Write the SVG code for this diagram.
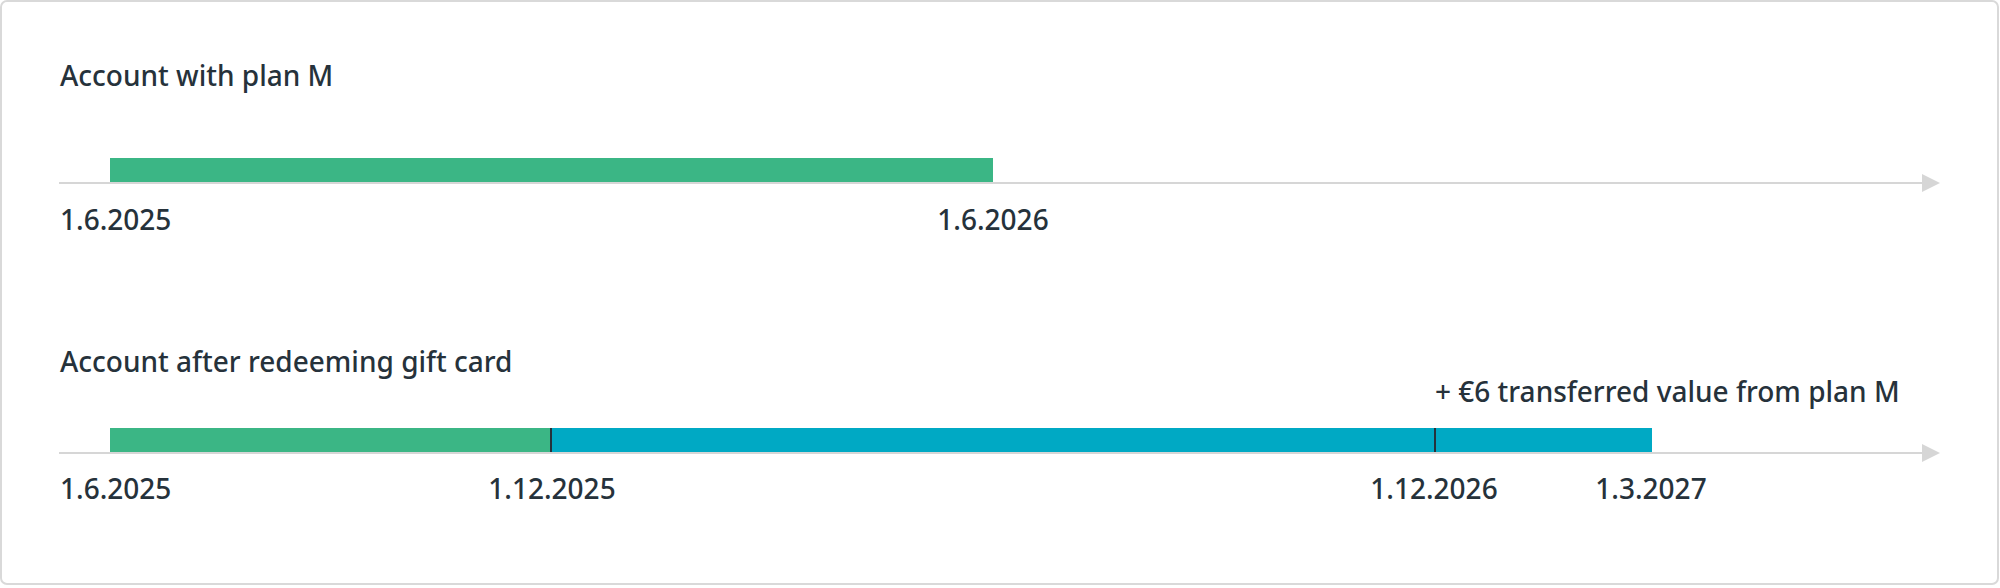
<svg xmlns="http://www.w3.org/2000/svg" width="2000" height="588" viewBox="0 0 2000 588">
  <defs>
    <style>
      .frame { fill: #ffffff; stroke: #d9d9d9; stroke-width: 2; }
      .axis { stroke: #d6d6d6; stroke-width: 2; fill: none; }
      .head { fill: #d6d6d6; }
      .green { fill: #3bb685; }
      .blue { fill: #00a9c4; }
      .tick { stroke: #26323b; stroke-width: 2; }
      .t { font-family: "Noto Sans", "Open Sans", sans-serif; font-size: 28px; font-weight: 500; fill: #26323b; }
      .mid { text-anchor: middle; }
    </style>
  </defs>
  <rect class="frame" x="1" y="1" width="1997" height="583" rx="6"/>

  <g id="connectors">
    <line class="axis" x1="59" y1="183" x2="1924" y2="183"/>
    <polygon class="head" points="1922,174 1940,183 1922,192"/>
    <line class="axis" x1="59" y1="453" x2="1924" y2="453"/>
    <polygon class="head" points="1922,444 1940,453 1922,462"/>
  </g>

  <g id="timeline-plan-m">
    <text class="t" x="60" y="86">Account with plan M</text>
    <rect class="green" x="110" y="158" width="883" height="24"/>
    <text class="t" x="60" y="230">1.6.2025</text>
    <text class="t mid" x="993" y="230">1.6.2026</text>
  </g>

  <g id="timeline-gift-card">
    <text class="t" x="60" y="372">Account after redeeming gift card</text>
    <text class="t" x="1435" y="402">+ €6 transferred value from plan M</text>
    <rect class="green" x="110" y="428" width="441" height="24"/>
    <rect class="blue" x="551" y="428" width="1101" height="24"/>
    <line class="tick" x1="551" y1="428" x2="551" y2="452"/>
    <line class="tick" x1="1435" y1="428" x2="1435" y2="452"/>
    <text class="t" x="60" y="499">1.6.2025</text>
    <text class="t mid" x="552" y="499">1.12.2025</text>
    <text class="t mid" x="1434" y="499">1.12.2026</text>
    <text class="t mid" x="1651" y="499">1.3.2027</text>
  </g>
</svg>
